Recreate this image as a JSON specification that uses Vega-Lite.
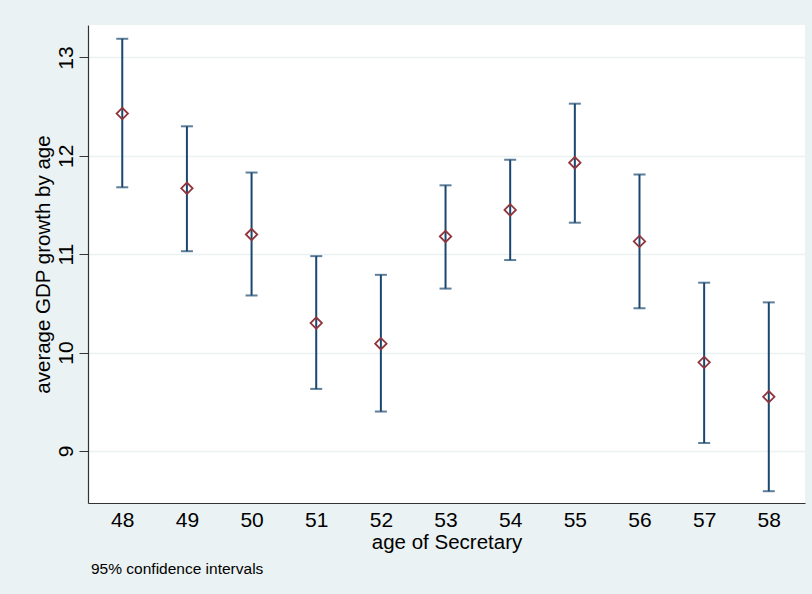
{
  "$schema": "https://vega.github.io/schema/vega-lite/v6.json",
  "autosize": {"type": "none"},
  "padding": {"left": 88, "top": 25, "right": 7, "bottom": 91},
  "width": 717,
  "height": 478,
  "background": "#eaf2f3",
  "title": {
    "text": "95% confidence intervals",
    "orient": "bottom",
    "anchor": "start",
    "frame": "group",
    "fontSize": 15.5,
    "fontWeight": "normal",
    "font": "Liberation Sans",
    "color": "#000000",
    "offset": 9,
    "dx": 3
  },
  "config": {
    "view": {"fill": "white", "stroke": null},
    "font": "Liberation Sans"
  },
  "data": {
    "values": [
      {"age": 48, "mean": 12.43, "lo": 11.68, "hi": 13.19},
      {"age": 49, "mean": 11.67, "lo": 11.03, "hi": 12.30},
      {"age": 50, "mean": 11.20, "lo": 10.58, "hi": 11.83},
      {"age": 51, "mean": 10.30, "lo": 9.63, "hi": 10.98},
      {"age": 52, "mean": 10.09, "lo": 9.40, "hi": 10.79},
      {"age": 53, "mean": 11.18, "lo": 10.65, "hi": 11.70},
      {"age": 54, "mean": 11.45, "lo": 10.94, "hi": 11.96},
      {"age": 55, "mean": 11.93, "lo": 11.32, "hi": 12.53},
      {"age": 56, "mean": 11.13, "lo": 10.45, "hi": 11.81},
      {"age": 57, "mean": 9.90, "lo": 9.08, "hi": 10.71},
      {"age": 58, "mean": 9.55, "lo": 8.59, "hi": 10.51}
    ]
  },
  "encoding": {
    "x": {
      "field": "age",
      "type": "quantitative",
      "scale": {"domain": [47.47, 58.56], "nice": false, "zero": false},
      "axis": {
        "title": "age of Secretary",
        "values": [48, 49, 50, 51, 52, 53, 54, 55, 56, 57, 58],
        "format": "d",
        "grid": false,
        "ticks": false,
        "domainColor": "#333333",
        "domainWidth": 1.2,
        "labelFontSize": 21,
        "labelColor": "#000000",
        "labelPadding": 6,
        "titleFontSize": 20.5,
        "titleFontWeight": "normal",
        "titleColor": "#000000",
        "titlePadding": 2
      }
    }
  },
  "layer": [
    {
      "mark": {"type": "rule", "color": "#1a476f", "strokeWidth": 2},
      "encoding": {
        "y": {
          "field": "lo",
          "type": "quantitative",
          "scale": {"domain": [8.47, 13.33], "nice": false, "zero": false},
          "axis": {
            "title": "average GDP growth by age",
            "values": [9, 10, 11, 12, 13],
            "format": "d",
            "grid": true,
            "gridColor": "#eaf2f3",
            "gridWidth": 1.5,
            "tickSize": 9,
            "tickColor": "#333333",
            "domainColor": "#333333",
            "domainWidth": 1.2,
            "labelAngle": -90,
            "labelAlign": "center",
            "labelBaseline": "alphabetic",
            "labelFontSize": 21,
            "labelColor": "#000000",
            "labelPadding": 7,
            "titleFontSize": 20.5,
            "titleFontWeight": "normal",
            "titleColor": "#000000",
            "titlePadding": 2
          }
        },
        "y2": {"field": "hi"}
      }
    },
    {
      "mark": {"type": "tick", "orient": "horizontal", "color": "#1a476f", "size": 12, "thickness": 2},
      "encoding": {"y": {"field": "lo", "type": "quantitative"}}
    },
    {
      "mark": {"type": "tick", "orient": "horizontal", "color": "#1a476f", "size": 12, "thickness": 2},
      "encoding": {"y": {"field": "hi", "type": "quantitative"}}
    },
    {
      "mark": {"type": "point", "shape": "diamond", "filled": false, "color": "#90353b", "strokeWidth": 1.8, "size": 130, "opacity": 1},
      "encoding": {"y": {"field": "mean", "type": "quantitative"}}
    }
  ]
}
